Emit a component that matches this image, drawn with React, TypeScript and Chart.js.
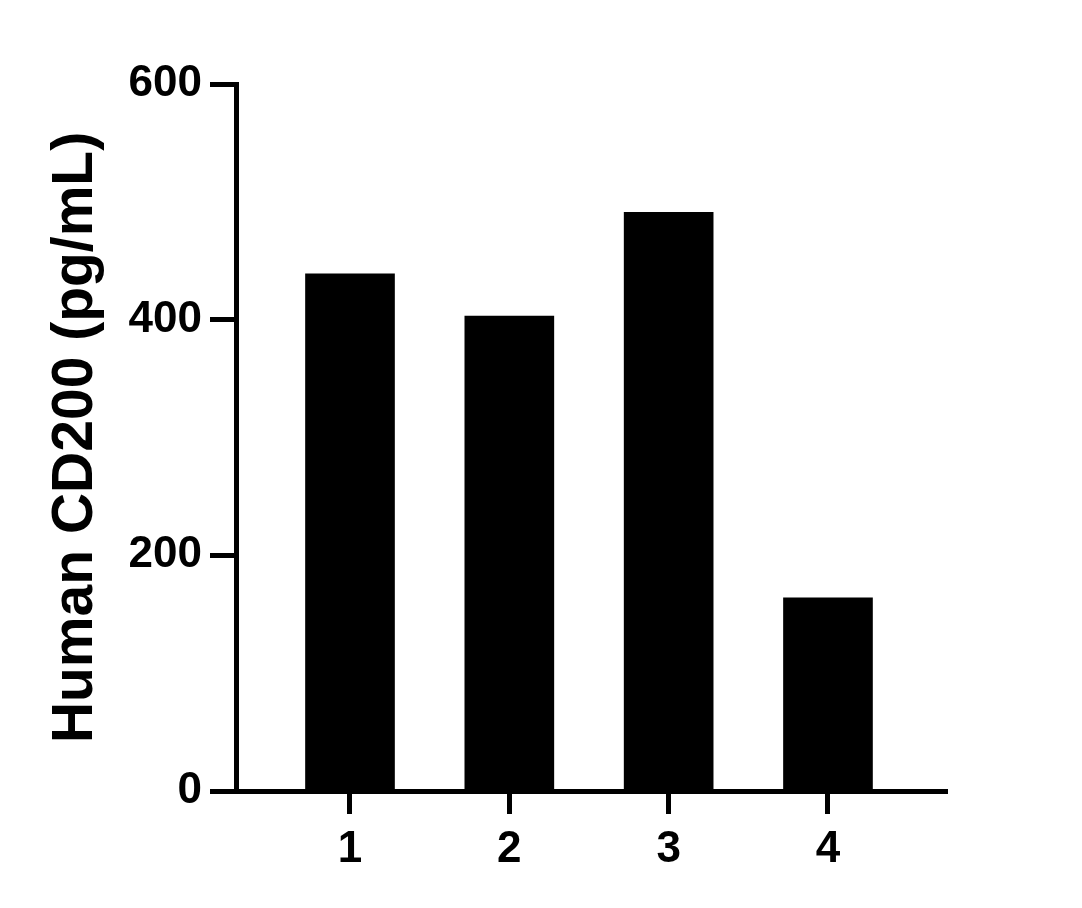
import { useEffect, useRef } from 'react';
import { Chart, registerables } from 'chart.js';

Chart.register(...registerables);

const categories = [1, 2, 3, 4];
const values = [439, 403, 491, 164];
const yTicks = [0, 200, 400, 600];
const yTitle = 'Human CD200 (pg/mL)';

const FONT = "'Liberation Sans', Arial, Helvetica, sans-serif";

export default function App() {
  const canvasRef = useRef<HTMLCanvasElement>(null);
  const chartRef = useRef<Chart | null>(null);

  useEffect(() => {
    if (!canvasRef.current) return;
    if (chartRef.current) chartRef.current.destroy();

    const ctx = canvasRef.current.getContext('2d');
    if (!ctx) return;

    chartRef.current = new Chart(ctx, {
      type: 'bar',
      data: {
        datasets: [
          {
            data: categories.map((c, i) => ({ x: c, y: values[i] })),
            backgroundColor: '#000000',
            borderWidth: 0,
            barThickness: 89,
          },
        ],
      },
      options: {
        animation: false,
        responsive: true,
        maintainAspectRatio: false,
        layout: { padding: { top: 84, right: 135, left: 0, bottom: 0 } },
        plugins: {
          legend: { display: false },
          tooltip: { enabled: false },
        },
        scales: {
          x: {
            type: 'linear',
            offset: false,
            min: 0.2845,
            max: 4.747,
            afterBuildTicks: (scale: any) => {
              scale.ticks = categories.map((v) => ({ value: v }));
            },
            afterFit: (scale: any) => {
              scale.height = 117;
            },
            grid: {
              display: true,
              offset: false,
              drawOnChartArea: false,
              drawTicks: true,
              tickLength: 23,
              tickWidth: 5,
              tickColor: '#000',
            },
            border: { display: true, width: 5, color: '#000' },
            ticks: {
              color: '#000',
              padding: 9,
              font: { family: FONT, size: 44, weight: 'bold' },
              callback: (v: any) => String(v),
            },
          },
          y: {
            min: yTicks[0],
            max: yTicks[yTicks.length - 1],
            afterBuildTicks: (scale: any) => {
              scale.ticks = yTicks.map((v) => ({ value: v }));
            },
            afterFit: (scale: any) => {
              scale.width = 236;
            },
            grid: {
              display: true,
              drawOnChartArea: false,
              drawTicks: true,
              tickLength: 26,
              tickWidth: 5,
              tickColor: '#000',
            },
            border: { display: true, width: 5, color: '#000' },
            ticks: {
              color: '#000',
              padding: 8,
              font: { family: FONT, size: 44, weight: 'bold' },
            },
            title: {
              display: true,
              text: yTitle,
              color: '#000',
              padding: { top: 42, bottom: 0 },
              font: { family: FONT, size: 57, weight: 'bold' },
            },
          },
        },
      },
    });

    return () => {
      if (chartRef.current) {
        chartRef.current.destroy();
        chartRef.current = null;
      }
    };
  }, []);

  return (
    <div
      style={{
        position: 'absolute',
        left: 0,
        top: 0,
        width: '1082px',
        height: '908px',
        background: '#fff',
      }}
    >
      <canvas ref={canvasRef}></canvas>
    </div>
  );
}
